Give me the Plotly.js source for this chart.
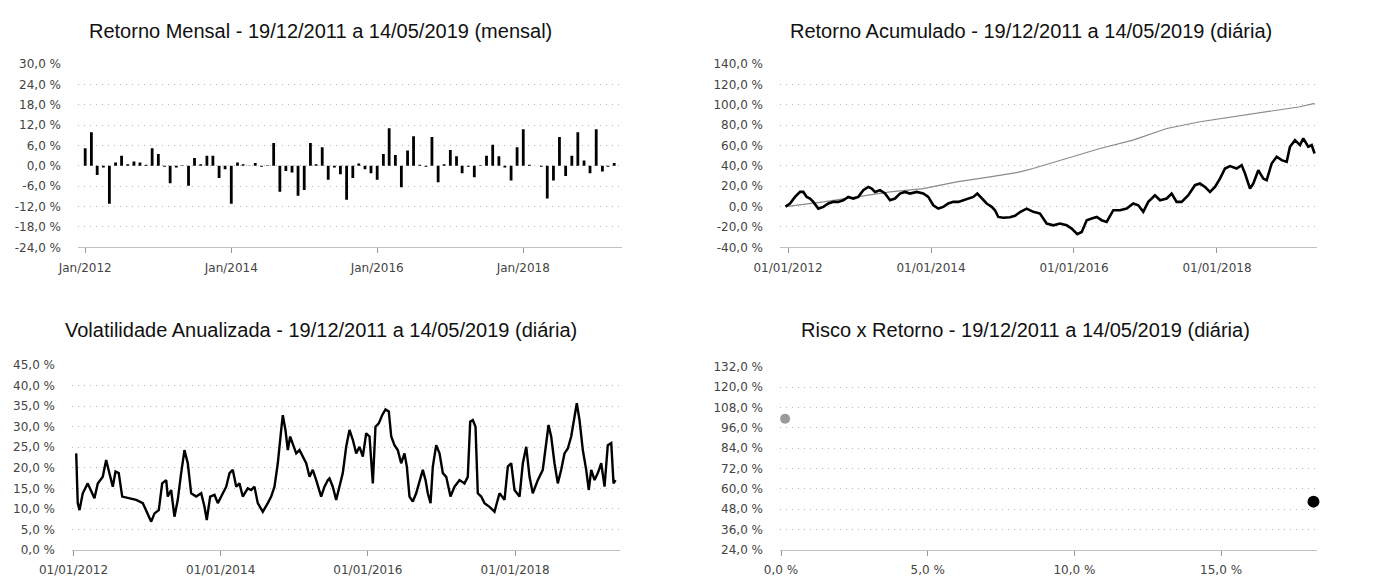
<!DOCTYPE html>
<html><head><meta charset="utf-8">
<script src="https://cdn.plot.ly/plotly-3.0.1.min.js"></script>
<style>html,body{margin:0;padding:0;background:#fff;}#chart{width:1387px;height:578px;}</style>
</head><body><div id="chart"></div>
<script>
// ---------- titles ----------
const chartTitles = [
  'Retorno Mensal - 19/12/2011 a 14/05/2019 (mensal)',
  'Retorno Acumulado - 19/12/2011 a 14/05/2019 (diária)',
  'Volatilidade Anualizada - 19/12/2011 a 14/05/2019 (diária)',
  'Risco x Retorno - 19/12/2011 a 14/05/2019 (diária)'
];

// ---------- chart 1: monthly returns (%), Jan/2012 .. Apr/2019 ----------
const firstMonth = {year: 2012, month: 1};
const monthlyReturns = [
  5.2, 9.9, -2.7, -0.5, -11.2, 1.0, 3.0, 0.5, 1.3, 1.0, 0.3, 5.2,
  3.5, -0.3, -5.1, -0.5, 0.2, -5.9, 2.3, 0.5, 3.0, 3.0, -3.6, -1.0,
  -11.2, 1.0, 0.5, 0.1, 0.8, -0.3, 0.2, 6.7, -7.6, -1.5, -2.0, -8.8,
  -7.1, 6.7, 0.5, 5.5, -4.1, -0.5, -2.5, -10.0, -3.6, 0.7, -1.0, -2.2,
  -4.1, 3.5, 11.1, 3.2, -6.3, 4.5, 8.7, 0.3, -0.3, 8.5, -4.8, 0.5,
  4.7, 2.8, -2.2, -0.3, -3.4, 0.2, 3.0, 6.2, 2.8, -0.5, -4.3, 5.5,
  10.8, 0.3, 0.0, -0.3, -9.6, -4.3, 8.5, -3.0, 3.0, 9.9, 1.6, -2.2,
  10.8, -1.7, -0.3, 0.8
];
const months = monthlyReturns.map((_, i) => {
  const y = firstMonth.year + Math.floor((firstMonth.month - 1 + i) / 12);
  const m = (firstMonth.month - 1 + i) % 12 + 1;
  return y + '-' + String(m).padStart(2, '0') + '-01';
});
const monthTickVals = ['2012-01-01', '2014-01-01', '2016-01-01', '2018-01-01'];
const monthTickText = ['Jan/2012', 'Jan/2014', 'Jan/2016', 'Jan/2018'];
const retTickVals = [-24, -18, -12, -6, 0, 6, 12, 18, 24, 30];
const retTickText = ['-24,0 %', '-18,0 %', '-12,0 %', '-6,0 %', '0,0 %', '6,0 %', '12,0 %', '18,0 %', '24,0 %', '30,0 %'];

// ---------- chart 2: cumulative return (%) ----------
const cumYears = [
  2011.965, 2012.028, 2012.098, 2012.168, 2012.214, 2012.262, 2012.308, 2012.354, 2012.424, 2012.494,
  2012.564, 2012.634, 2012.703, 2012.773, 2012.843, 2012.913, 2012.983, 2013.053, 2013.123, 2013.171,
  2013.217, 2013.287, 2013.357, 2013.427, 2013.497, 2013.566, 2013.636, 2013.706, 2013.800, 2013.892,
  2013.962, 2014.032, 2014.102, 2014.172, 2014.242, 2014.312, 2014.382, 2014.452, 2014.522, 2014.592,
  2014.648, 2014.709, 2014.779, 2014.849, 2014.895, 2014.941, 2015.011, 2015.105, 2015.175, 2015.245,
  2015.338, 2015.431, 2015.524, 2015.618, 2015.711, 2015.804, 2015.898, 2015.968, 2016.046, 2016.108,
  2016.178, 2016.248, 2016.318, 2016.387, 2016.457, 2016.550, 2016.643, 2016.737, 2016.829, 2016.899,
  2016.969, 2017.039, 2017.133, 2017.203, 2017.297, 2017.366, 2017.436, 2017.506, 2017.599, 2017.692,
  2017.762, 2017.832, 2017.902, 2017.972, 2018.042, 2018.112, 2018.182, 2018.275, 2018.345, 2018.392,
  2018.462, 2018.508, 2018.578, 2018.648, 2018.695, 2018.765, 2018.835, 2018.905, 2018.975, 2019.021,
  2019.091, 2019.161, 2019.207, 2019.277, 2019.325, 2019.365
];
const cumFund = [
  0, 3, 9.5, 14.4, 14.4, 9.5, 7.9, 4.6, -2, -0.3,
  3, 4.6, 4.6, 6.2, 9.5, 7.9, 9.5, 16.1, 19.3, 17.7,
  14.4, 16.1, 12.8, 6.2, 7.9, 12.8, 14.4, 12.8, 14.4, 12.8,
  9.5, 1.3, -2, -0.3, 3, 4.6, 4.6, 6.2, 7.9, 9.5,
  12.8, 7.9, 3, -0.3, -3.6, -10.2, -11, -10.5, -9, -5.5,
  -2, -5.2, -6.9, -16.7, -18.4, -16.7, -18.4, -21.6, -27, -24.9,
  -13.4, -11.8, -10.2, -13.4, -15.1, -3.6, -3.6, -2, 3, 1.3,
  -5.2, 4.6, 11.1, 6.2, 7.9, 12.8, 4.6, 4.6, 11.1, 21,
  22.6, 19.3, 14.4, 19.3, 27.5, 37.4, 39.7, 37.4, 40.7, 32.5,
  17.7, 22.6, 35.7, 27.5, 25.9, 42.3, 48.9, 45.6, 43.9, 58.7,
  65.2, 60.3, 66.9, 58.7, 60.3, 52.1
];
const benchYears = [2011.965, 2012.494, 2012.961, 2013.427, 2013.892, 2014.359, 2014.825, 2015.245, 2015.427,
  2015.898, 2016.364, 2016.825, 2017.297, 2017.762, 2018.224, 2018.695, 2019.161, 2019.365];
const benchValues = [0, 4.6, 9.5, 14.4, 17.7, 24.3, 29.2, 34, 37.4,
  47.2, 57, 65.2, 76.7, 83.3, 88.2, 93.1, 98, 101.3];
const dateTickVals = [2012, 2014, 2016, 2018];
const dateTickText = ['01/01/2012', '01/01/2014', '01/01/2016', '01/01/2018'];
const cumTickVals = [-40, -20, 0, 20, 40, 60, 80, 100, 120, 140];
const cumTickText = ['-40,0 %', '-20,0 %', '0,0 %', '20,0 %', '40,0 %', '60,0 %', '80,0 %', '100,0 %', '120,0 %', '140,0 %'];

// ---------- chart 3: annualised volatility (%) ----------
const volYears = [
  2012.037, 2012.058, 2012.082, 2012.126, 2012.194, 2012.240, 2012.285, 2012.330, 2012.398, 2012.444,
  2012.489, 2012.534, 2012.571, 2012.615, 2012.662, 2012.761, 2012.852, 2012.942, 2013.010, 2013.056,
  2013.101, 2013.159, 2013.205, 2013.260, 2013.281, 2013.327, 2013.372, 2013.417, 2013.463, 2013.508,
  2013.553, 2013.599, 2013.667, 2013.735, 2013.780, 2013.811, 2013.857, 2013.916, 2013.961, 2014.007,
  2014.075, 2014.120, 2014.164, 2014.211, 2014.255, 2014.300, 2014.368, 2014.414, 2014.459, 2014.504,
  2014.572, 2014.640, 2014.686, 2014.731, 2014.776, 2014.822, 2014.844, 2014.880, 2014.912, 2014.944,
  2014.980, 2015.026, 2015.071, 2015.115, 2015.162, 2015.207, 2015.251, 2015.298, 2015.365, 2015.410,
  2015.455, 2015.478, 2015.523, 2015.569, 2015.614, 2015.659, 2015.705, 2015.750, 2015.795, 2015.841,
  2015.886, 2015.931, 2015.977, 2016.022, 2016.067, 2016.103, 2016.148, 2016.194, 2016.239, 2016.284,
  2016.317, 2016.361, 2016.406, 2016.452, 2016.497, 2016.529, 2016.565, 2016.610, 2016.656, 2016.701,
  2016.746, 2016.783, 2016.814, 2016.851, 2016.882, 2016.928, 2016.973, 2017.018, 2017.064, 2017.122,
  2017.177, 2017.245, 2017.312, 2017.357, 2017.390, 2017.425, 2017.462, 2017.493, 2017.539, 2017.584,
  2017.652, 2017.720, 2017.788, 2017.856, 2017.901, 2017.947, 2017.992, 2018.060, 2018.105, 2018.151,
  2018.196, 2018.240, 2018.308, 2018.376, 2018.423, 2018.454, 2018.490, 2018.535, 2018.580, 2018.626,
  2018.671, 2018.716, 2018.762, 2018.807, 2018.838, 2018.875, 2018.920, 2018.966, 2019.001, 2019.034,
  2019.079, 2019.124, 2019.170, 2019.215, 2019.259, 2019.306, 2019.337, 2019.365
];
const volValues = [
  23.5, 11.4, 9.7, 13.8, 16.2, 14.2, 12.6, 16.2, 17.8, 21.9,
  18.7, 15.4, 19.1, 18.7, 13.0, 12.6, 12.2, 11.4, 8.5, 6.9,
  8.9, 9.7, 16.2, 17.0, 13.0, 14.6, 8.1, 12.2, 18.7, 24.3,
  21.1, 13.8, 13.0, 13.8, 10.5, 7.3, 13.0, 13.4, 11.4, 13.0,
  15.4, 18.7, 19.5, 15.4, 16.2, 13.0, 15.0, 14.6, 15.4, 11.4,
  9.3, 11.4, 13.0, 15.4, 21.1, 29.2, 32.8, 29.2, 24.3, 27.6,
  26.0, 23.5, 24.3, 22.7, 21.1, 17.8, 19.5, 17.0, 13.0, 15.4,
  17.0, 17.4, 15.4, 12.2, 15.4, 18.7, 25.1, 29.2, 26.8, 23.5,
  25.1, 22.7, 28.4, 27.6, 16.2, 30.0, 30.8, 32.8, 34.2, 33.7,
  27.6, 25.5, 24.3, 21.1, 23.5, 20.3, 13.0, 11.8, 13.8, 17.0,
  19.5, 17.0, 13.8, 11.4, 20.3, 25.5, 23.5, 18.7, 17.8, 13.0,
  15.4, 17.0, 16.2, 17.8, 31.2, 31.6, 30.0, 13.8, 13.0, 11.4,
  10.5, 9.3, 13.8, 12.2, 20.3, 21.1, 14.6, 13.0, 21.1, 25.1,
  17.8, 13.8, 17.0, 19.5, 26.8, 30.4, 27.6, 21.1, 16.2, 19.5,
  23.5, 24.7, 27.6, 32.4, 35.7, 31.6, 24.3, 19.5, 14.6, 19.5,
  17.0, 18.7, 21.1, 15.4, 25.5, 26.0, 16.2, 17.0
];
const volTickVals = [0, 5, 10, 15, 20, 25, 30, 35, 40, 45];
const volTickText = ['0,0 %', '5,0 %', '10,0 %', '15,0 %', '20,0 %', '25,0 %', '30,0 %', '35,0 %', '40,0 %', '45,0 %'];

// ---------- chart 4: risk x return ----------
const riskNames = ['Benchmark', 'Fundo'];
const riskVol = [0.14, 18.15];
const riskRet = [101.3, 52.5];
const riskColors = ['#9a9a9a', '#000000'];
const riskXTickVals = [0, 5, 10, 15];
const riskXTickText = ['0,0 %', '5,0 %', '10,0 %', '15,0 %'];
const riskYTickVals = [24, 36, 48, 60, 72, 84, 96, 108, 120, 132];
const riskYTickText = ['24,0 %', '36,0 %', '48,0 %', '60,0 %', '72,0 %', '84,0 %', '96,0 %', '108,0 %', '120,0 %', '132,0 %'];

// ---------- drawing ----------
const W = 1387, H = 578;
const tickFont = {family: 'DejaVu Sans', size: 12, color: '#444'};
const gridStyle = {showgrid: true, gridcolor: '#b5b5b5', griddash: '1px,5px', gridwidth: 1, zeroline: false};
function yAx(domain, range, vals, text) {
  return Object.assign({domain: domain, range: range, tickmode: 'array', tickvals: vals, ticktext: text,
    ticks: '', ticklabelstandoff: 16, tickfont: tickFont, showline: false, fixedrange: true}, gridStyle);
}
function xAx(domain, anchor, range, vals, text, type) {
  return {domain: domain, anchor: anchor, range: range, type: type || 'linear', tickmode: 'array',
    tickvals: vals, ticktext: text, showgrid: false, zeroline: false, showline: true, linecolor: '#c0c0c0',
    linewidth: 1, ticks: 'outside', ticklen: 5, tickcolor: '#999', tickfont: tickFont, ticklabelstandoff: 4};
}
const topY = [1 - 247.3 / H, 1 - 64 / H];
const botY3 = [1 - 550 / H, 1 - 365 / H];
const botY4 = [1 - 550 / H, 1 - 366.7 / H];
const leftX1 = [78 / W, 622 / W];
const rightX = [780 / W, 1317 / W];
const leftX3 = [72 / W, 620 / W];

const traces = [
  {type: 'bar', x: months, y: monthlyReturns, xaxis: 'x', yaxis: 'y', marker: {color: '#000'},
   width: 14 * 86400000, hoverinfo: 'x+y'},
  {type: 'scatter', mode: 'lines', x: benchYears, y: benchValues, xaxis: 'x2', yaxis: 'y2',
   line: {color: '#8a8a8a', width: 1.2}},
  {type: 'scatter', mode: 'lines', x: cumYears, y: cumFund, xaxis: 'x2', yaxis: 'y2',
   line: {color: '#000', width: 2.6}},
  {type: 'scatter', mode: 'lines', x: volYears, y: volValues, xaxis: 'x3', yaxis: 'y3',
   line: {color: '#000', width: 2.4}},
  {type: 'scatter', mode: 'markers', x: [riskVol[0]], y: [riskRet[0]], name: riskNames[0], xaxis: 'x4', yaxis: 'y4',
   marker: {color: riskColors[0], size: 10}, cliponaxis: false},
  {type: 'scatter', mode: 'markers', x: [riskVol[1]], y: [riskRet[1]], name: riskNames[1], xaxis: 'x4', yaxis: 'y4',
   marker: {color: riskColors[1], size: 12}, cliponaxis: false}
];

const titleFont = {family: 'Liberation Sans', size: 20, color: '#111'};
const titlePos = [[320.5, 31], [1030.5, 31], [321, 330], [1025, 330]];
const annotations = chartTitles.map((t, i) => ({text: t, xref: 'paper', yref: 'paper',
  x: titlePos[i][0] / W, y: 1 - titlePos[i][1] / H, xanchor: 'center', yanchor: 'middle',
  showarrow: false, font: titleFont}));

const layout = {
  width: W, height: H, margin: {l: 0, r: 0, t: 0, b: 0}, showlegend: false,
  paper_bgcolor: '#fff', plot_bgcolor: '#fff',
  xaxis: xAx(leftX1, 'y', ['2011-11-26', '2019-05-10'], monthTickVals, monthTickText, 'date'),
  yaxis: Object.assign(yAx(topY, [-24, 30], retTickVals, retTickText), {anchor: 'x'}),
  xaxis2: xAx(rightX, 'y2', [2011.888, 2019.399], dateTickVals, dateTickText),
  yaxis2: Object.assign(yAx(topY, [-40, 140], cumTickVals, cumTickText), {anchor: 'x2'}),
  xaxis3: xAx(leftX3, 'y3', [2011.98, 2019.425], dateTickVals, dateTickText),
  yaxis3: Object.assign(yAx(botY3, [0, 45], volTickVals, volTickText), {anchor: 'x3'}),
  xaxis4: xAx(rightX, 'y4', [-0.034, 18.27], riskXTickVals, riskXTickText),
  yaxis4: Object.assign(yAx(botY4, [24, 132], riskYTickVals, riskYTickText), {anchor: 'x4'}),
  annotations: annotations
};
Plotly.newPlot('chart', traces, layout, {staticPlot: true, displayModeBar: false});
</script></body></html>
